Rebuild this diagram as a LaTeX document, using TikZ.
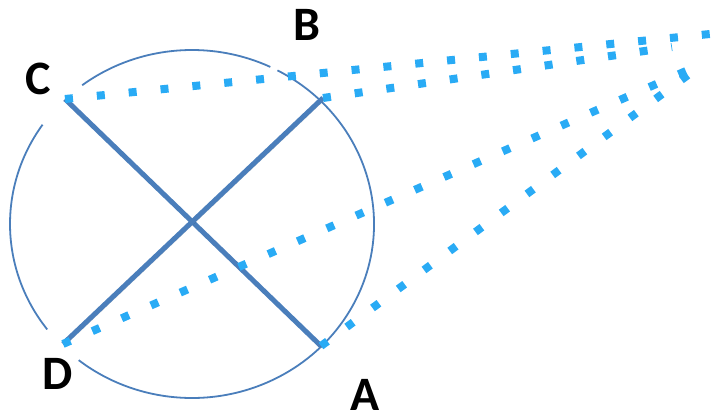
\documentclass[tikz,border=0pt]{standalone}
\usepackage{fontspec}
\setsansfont{Carlito}
\definecolor{chordblue}{RGB}{74,126,187}
\definecolor{dotblue}{RGB}{41,171,245}
\tikzset{
  rim/.style={line width=1.8pt,chordblue},
  chord/.style={line width=5pt,chordblue,
    preaction={draw=black,opacity=.2,transform canvas={shift={(1.5pt,-2pt)}}}},
  ray/.style={line width=8pt,dotblue,dash pattern=on 8pt off 24pt},
  letter/.style={inner sep=0pt,font=\sffamily\bfseries\fontsize{48}{48}\selectfont}
}
\begin{document}
\begin{tikzpicture}[x=1pt,y=-1pt]
\useasboundingbox (0,0) rectangle (712,417);
\coordinate (O) at (192,224);
% the circle, broken where the letters sit
\draw[rim] ([shift={(-62:182 and 174)}]O) arc[start angle=-62,end angle=128.5,x radius=182,y radius=174];
\draw[rim] ([shift={(142.7:182 and 174)}]O) arc[start angle=142.7,end angle=214.8,x radius=182,y radius=174];
\draw[rim] ([shift={(232.9:182 and 174)}]O) arc[start angle=232.9,end angle=295.5,x radius=182,y radius=174];

\coordinate (A) at (321,346);
\coordinate (B) at (323,98);
\coordinate (C) at (65,99);
\coordinate (D) at (63,344);
\coordinate (farC) at (710,34);
\coordinate (farB) at (672,47);
\coordinate (farD) at (686,71);
\coordinate (farA) at (688,75);

\draw[chord] (C)--(A);
\draw[chord] (D)--(B);

\draw[ray] (C)--(farC);
\draw[ray] (B)--(farB);
\draw[ray] (D)--(farD);
\draw[ray] (A)--(farA);

\node[letter] (labA) at (365,395) {A};
\node[letter] (labB) at (306.5,24.5) {B};
\node[letter] (labC) at (38.5,79) {C};
\node[letter] (labD) at (57.5,374) {D};
\end{tikzpicture}
\end{document}
